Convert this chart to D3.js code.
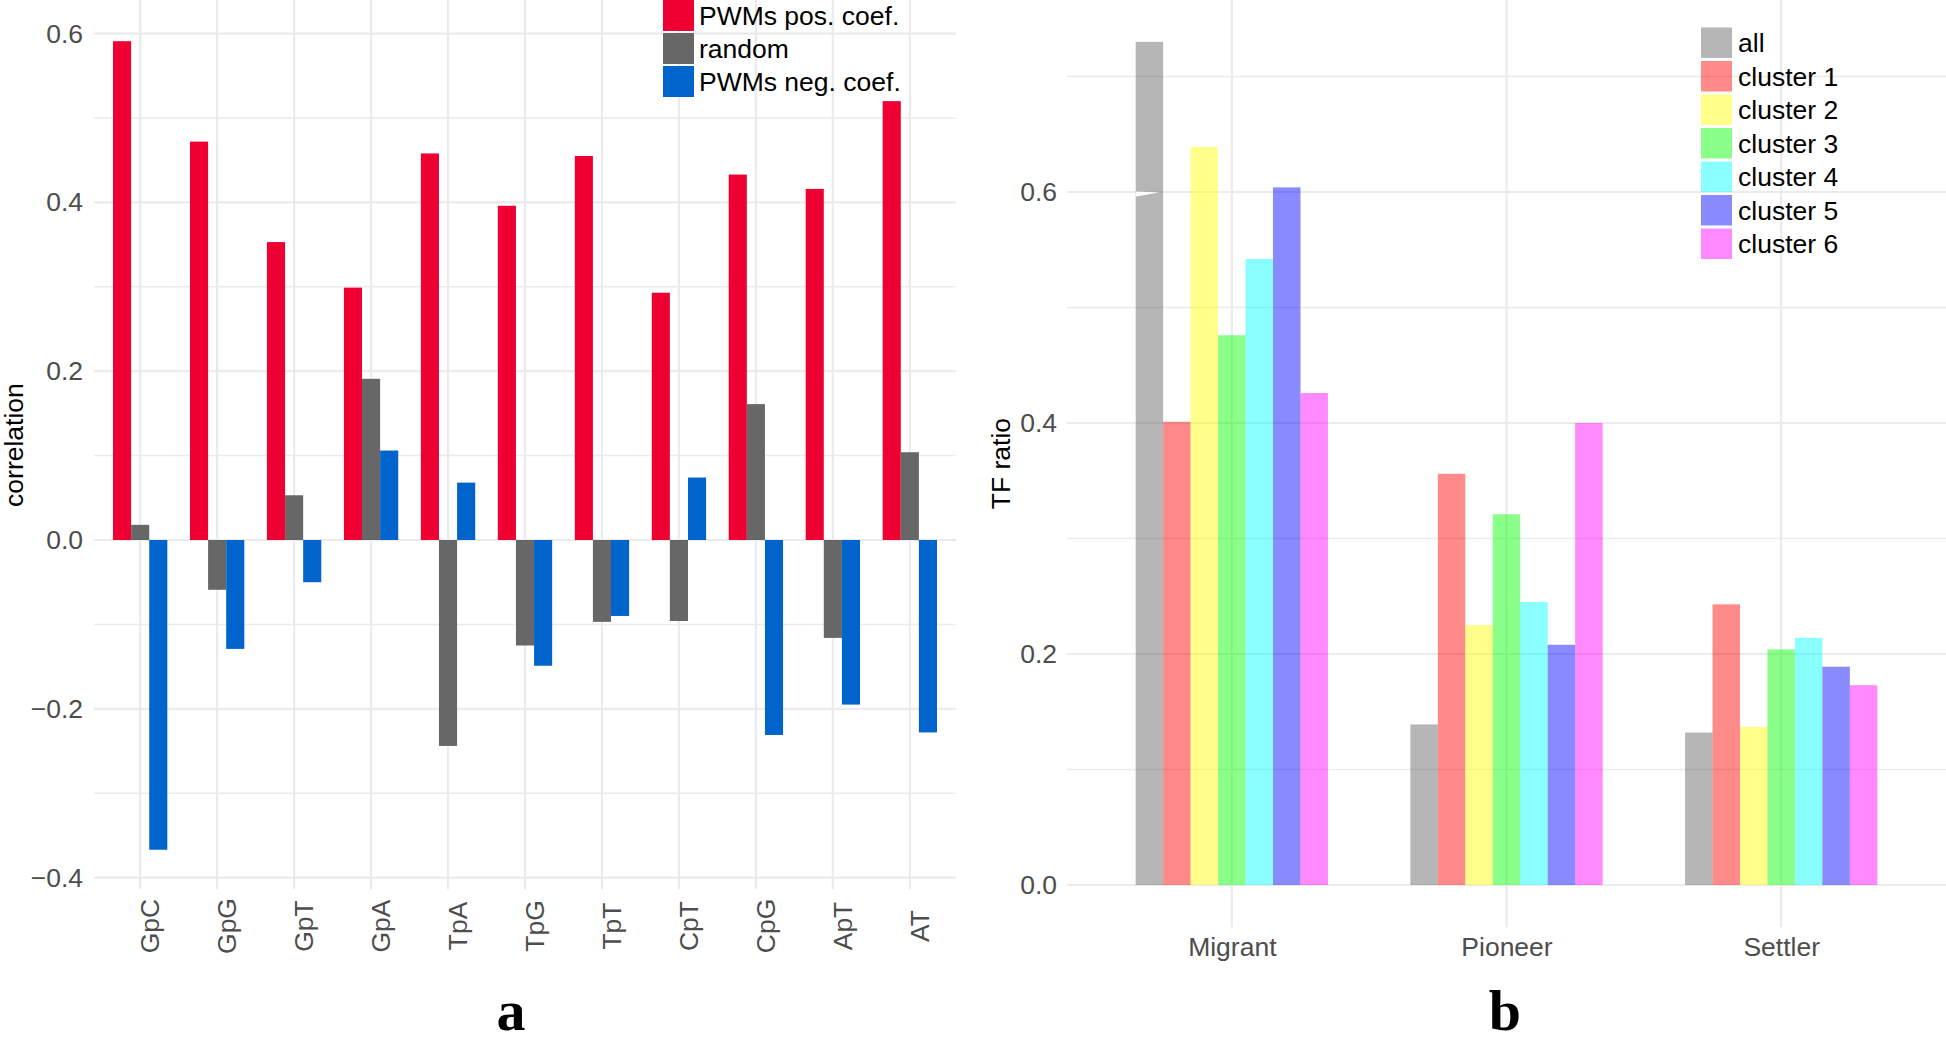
<!DOCTYPE html>
<html>
<head>
<meta charset="utf-8">
<script src="https://cdn.jsdelivr.net/npm/d3@7"></script>
<style>
  html, body { margin: 0; padding: 0; background: #fff; }
  svg { display: block; font-family: "Liberation Sans", Arial, Helvetica, sans-serif; }
</style>
</head>
<body>
<svg id="chart" width="1946" height="1043"></svg>
<script>
// ---------- Panel a data ----------
const dinucleotides = ["GpC","GpG","GpT","GpA","TpA","TpG","TpT","CpT","CpG","ApT","AT"];
const pwmPos    = [0.591, 0.472, 0.353, 0.299, 0.458, 0.396, 0.455, 0.293, 0.433, 0.416, 0.520];
const randomCor = [0.018, -0.059, 0.053, 0.191, -0.244, -0.125, -0.097, -0.096, 0.161, -0.116, 0.104];
const pwmNeg    = [-0.367, -0.129, -0.050, 0.106, 0.068, -0.149, -0.090, 0.074, -0.231, -0.195, -0.228];
const seriesA   = ["PWMs pos. coef.", "random", "PWMs neg. coef."];
const colorsA   = ["#ee0033", "#676767", "#0064cc"];
const ticksA    = [-0.4, -0.2, 0.0, 0.2, 0.4, 0.6];
const minorA    = [-0.3, -0.1, 0.1, 0.3, 0.5];

// ---------- Panel b data ----------
const roles     = ["Migrant", "Pioneer", "Settler"];
const groupsB   = ["all", "cluster 1", "cluster 2", "cluster 3", "cluster 4", "cluster 5", "cluster 6"];
const allRatio  = [0.730, 0.139, 0.132];
const cluster1  = [0.401, 0.356, 0.243];
const cluster2  = [0.639, 0.225, 0.137];
const cluster3  = [0.476, 0.321, 0.204];
const cluster4  = [0.542, 0.245, 0.214];
const cluster5  = [0.604, 0.208, 0.189];
const cluster6  = [0.426, 0.400, 0.173];
const colorsB   = ["#5f5f5f", "#ff0000", "#ffff00", "#00ff00", "#00ffff", "#0000ff", "#ff00ff"];
const ticksB    = [0.0, 0.2, 0.4, 0.6];
const minorB    = [0.1, 0.3, 0.5, 0.7];

const svg = d3.select("#chart");
const gridCol = "#ebebeb";
const tickCol = "#4d4d4d";
const FS = 26.5;

// =================== Panel a ===================
const xA = d3.scalePoint().domain(dinucleotides).range([94, 956]).padding(0.6);
const yA = d3.scaleLinear().domain([-0.4, 0.6]).range([877.6, 33.6]);
const topA = yA(0.639), botA = yA(-0.414);
const subA = d3.scaleBand().domain(seriesA).range([-xA.step() * 0.353, xA.step() * 0.353]);

const gA = svg.append("g");
gA.selectAll(".minA").data(minorA).join("line")
  .attr("x1", 94).attr("x2", 956).attr("y1", d => yA(d)).attr("y2", d => yA(d))
  .attr("stroke", gridCol).attr("stroke-width", 1.5);
gA.selectAll(".majA").data(ticksA).join("line")
  .attr("x1", 94).attr("x2", 956).attr("y1", d => yA(d)).attr("y2", d => yA(d))
  .attr("stroke", gridCol).attr("stroke-width", 2.2);
gA.selectAll(".vA").data(dinucleotides).join("line")
  .attr("x1", d => xA(d)).attr("x2", d => xA(d)).attr("y1", topA - 1).attr("y2", botA)
  .attr("stroke", gridCol).attr("stroke-width", 2.2);

const rowsA = dinucleotides.map((d, i) => ({cat: d, vals: [pwmPos[i], randomCor[i], pwmNeg[i]]}));
rowsA.forEach(r => {
  r.vals.forEach((v, j) => {
    gA.append("rect")
      .attr("x", xA(r.cat) + subA(seriesA[j]))
      .attr("width", subA.bandwidth())
      .attr("y", yA(Math.max(0, v)))
      .attr("height", Math.abs(yA(v) - yA(0)))
      .attr("fill", colorsA[j]);
  });
});

const axA = gA.append("g").attr("transform", "translate(94,0)")
  .call(d3.axisLeft(yA).tickValues(ticksA).tickFormat(d3.format(".1f")).tickSize(0).tickPadding(11));
axA.select(".domain").remove();
axA.selectAll("text").attr("font-size", FS).attr("fill", tickCol)
  .attr("font-family", "Liberation Sans, Arial, sans-serif")
  .text(d => d3.format(".1f")(d).replace("-", "\u2212"));

const axAx = gA.append("g").attr("transform", `translate(0,${botA})`)
  .call(d3.axisBottom(xA).tickSize(0));
axAx.select(".domain").remove();
axAx.selectAll("text")
  .attr("y", null).attr("dy", null)
  .attr("transform", `translate(18.5,${926 - botA}) rotate(-90)`)
  .attr("text-anchor", "middle")
  .attr("font-size", FS).attr("fill", tickCol)
  .attr("font-family", "Liberation Sans, Arial, sans-serif");

gA.append("text").attr("transform", `translate(23,${(topA + botA) / 2}) rotate(-90)`)
  .attr("text-anchor", "middle").attr("font-size", FS).attr("fill", "#000").text("correlation");

seriesA.forEach((s, i) => {
  gA.append("rect").attr("x", 663).attr("y", i * 33).attr("width", 31).attr("height", 31).attr("fill", colorsA[i]);
  gA.append("text").attr("x", 699).attr("y", i * 33 + 15.5).attr("dy", "0.36em")
    .attr("font-size", FS).attr("fill", "#000").text(s);
});

svg.append("text").attr("x", 511).attr("y", 1030).attr("text-anchor", "middle")
  .attr("font-family", "Liberation Serif, Times New Roman, serif").attr("font-weight", "bold")
  .attr("font-size", 58).text("a");

// =================== Panel b ===================
const xB = d3.scalePoint().domain(roles).range([1067, 1946]).padding(0.6);
const yB = d3.scaleLinear().domain([0, 0.6]).range([885, 192]);
const topB = 0, botB = yB(-0.0365);
const subB = d3.scaleBand().domain(groupsB).range([-xB.step() * 0.35, xB.step() * 0.35]);
const seriesB = [allRatio, cluster1, cluster2, cluster3, cluster4, cluster5, cluster6];

const gB = svg.append("g");
gB.selectAll(".minB").data(minorB).join("line")
  .attr("x1", 1067).attr("x2", 1946).attr("y1", d => yB(d)).attr("y2", d => yB(d))
  .attr("stroke", gridCol).attr("stroke-width", 1.5);
gB.selectAll(".majB").data(ticksB).join("line")
  .attr("x1", 1067).attr("x2", 1946).attr("y1", d => yB(d)).attr("y2", d => yB(d))
  .attr("stroke", gridCol).attr("stroke-width", 2.2);
gB.selectAll(".vB").data(roles).join("line")
  .attr("x1", d => xB(d)).attr("x2", d => xB(d)).attr("y1", topB).attr("y2", botB)
  .attr("stroke", gridCol).attr("stroke-width", 2.2);

roles.forEach((r, i) => {
  seriesB.forEach((arr, j) => {
    gB.append("rect")
      .attr("x", xB(r) + subB(groupsB[j]))
      .attr("width", subB.bandwidth())
      .attr("y", yB(arr[i]))
      .attr("height", yB(0) - yB(arr[i]))
      .attr("fill", colorsB[j]).attr("fill-opacity", 0.46);
  });
});
{
  const x0 = xB(roles[0]) + subB(groupsB[0]);
  const y6 = yB(0.6);
  gB.append("path")
    .attr("d", `M${x0},${y6 - 0.5} L${x0 + 24},${y6 + 0.5} L${x0},${y6 + 4.5} Z`)
    .attr("fill", "#fff");
}

const axB = gB.append("g").attr("transform", "translate(1067,0)")
  .call(d3.axisLeft(yB).tickValues(ticksB).tickFormat(d3.format(".1f")).tickSize(0).tickPadding(10));
axB.select(".domain").remove();
axB.selectAll("text").attr("font-size", FS).attr("fill", tickCol)
  .attr("font-family", "Liberation Sans, Arial, sans-serif");

const axBx = gB.append("g").attr("transform", `translate(0,${botB})`)
  .call(d3.axisBottom(xB).tickSize(0).tickPadding(10));
axBx.select(".domain").remove();
axBx.selectAll("text").attr("font-size", FS).attr("fill", tickCol)
  .attr("font-family", "Liberation Sans, Arial, sans-serif");

gB.append("text").attr("transform", `translate(1010,${(topB + botB) / 2}) rotate(-90)`)
  .attr("text-anchor", "middle").attr("font-size", FS).attr("fill", "#000").text("TF ratio");

groupsB.forEach((s, i) => {
  gB.append("rect").attr("x", 1701).attr("y", 27.5 + i * 33.5).attr("width", 31).attr("height", 30.5)
    .attr("fill", colorsB[i]).attr("fill-opacity", 0.46);
  gB.append("text").attr("x", 1738).attr("y", 27.5 + i * 33.5 + 15.25).attr("dy", "0.36em")
    .attr("font-size", FS).attr("fill", "#000").text(s);
});

svg.append("text").attr("x", 1505).attr("y", 1030).attr("text-anchor", "middle")
  .attr("font-family", "Liberation Serif, Times New Roman, serif").attr("font-weight", "bold")
  .attr("font-size", 58).text("b");
</script>
</body>
</html>
